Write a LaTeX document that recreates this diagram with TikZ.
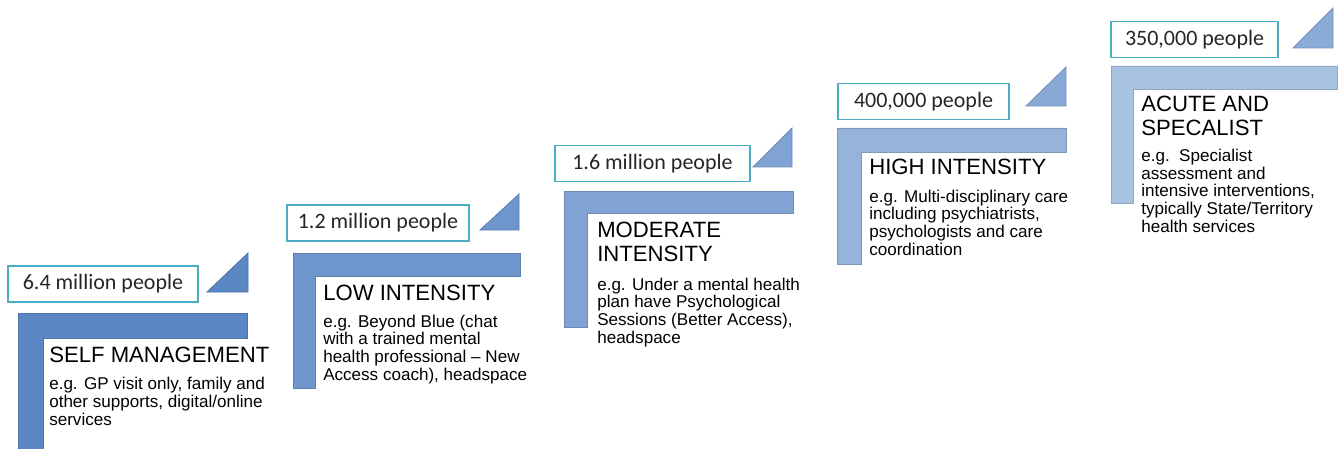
\documentclass[tikz,border=0pt]{standalone}
\usepackage{fontspec}
\setmainfont{Liberation Sans}
\newfontfamily\countfont{Carlito}
\usepackage{tikz}

\definecolor{boxteal}{HTML}{4BACC6}
\definecolor{stepA}{HTML}{5B88C4}
\definecolor{stepB}{HTML}{6E96CC}
\definecolor{stepC}{HTML}{80A3D3}
\definecolor{stepD}{HTML}{95B3DB}
\definecolor{stepE}{HTML}{A8C2E2}
\definecolor{triD}{HTML}{88A8D5}
\definecolor{triE}{HTML}{8AAAD8}

\begin{document}
\begin{tikzpicture}[x=0.75pt,y=-0.75pt,
    countbox/.style={draw=boxteal,line width=1.1pt,fill=white,minimum height=27pt,
      inner sep=0pt,font=\countfont\fontsize{16.5pt}{18pt}\selectfont,text=black!85},
    steptitle/.style={anchor=base west,inner sep=0pt,align=left,
      font=\fontsize{16.6pt}{18pt}\selectfont},
    stepbody/.style={anchor=base west,inner sep=0pt,align=left,
      font=\fontsize{12.8pt}{13.2pt}\selectfont},
    stair/.style={fill=#1,draw=#1!85!black,line width=0.6pt}]
    \clip (0,0) rectangle (1341,449);

    % stairs
    \draw[stair=stepA] (18,313) -- (247,313) -- (247,338) -- (43,338) -- (43,455) -- (18,455) -- cycle;
    \draw[stair=stepB] (293,253) -- (520,253) -- (520,276) -- (315,276) -- (315,388) -- (293,388) -- cycle;
    \draw[stair=stepC] (564,191) -- (793,191) -- (793,213) -- (587,213) -- (587,327) -- (564,327) -- cycle;
    \draw[stair=stepD] (837,128) -- (1066,128) -- (1066,152) -- (861,152) -- (861,264) -- (837,264) -- cycle;
    \draw[stair=stepE] (1111,66) -- (1337,66) -- (1337,89) -- (1133,89) -- (1133,203) -- (1111,203) -- cycle;

    % triangles
    \draw[stair=stepA] (207,292) -- (248,253) -- (248,292) -- cycle;
    \draw[stair=stepB] (480,230) -- (519,194) -- (519,230) -- cycle;
    \draw[stair=stepC] (753,167) -- (792,128) -- (792,167) -- cycle;
    \draw[stair=triD] (1026,106) -- (1066,67) -- (1066,106) -- cycle;
    \draw[stair=triE] (1293,48) -- (1333,8) -- (1333,48) -- cycle;

    % counts
    \node[countbox,minimum width=142.5pt] (countA) at (103,284) {6.4 million people};
    \node[countbox,minimum width=136.5pt] (countB) at (378,223) {1.2 million people};
    \node[countbox,minimum width=146.25pt] (countC) at (652.5,163.5) {1.6 million people};
    \node[countbox,minimum width=128.25pt] (countD) at (923.5,101.5) {400,000 people};
    \node[countbox,minimum width=125.25pt] (countE) at (1194.5,39.5) {350,000 people};

    % titles and examples (placed at the baseline of their last line)
    \node[steptitle] (titleA) at (49,362) {SELF MANAGEMENT};
    \node[stepbody] (bodyA) at (49,425) {e.g. GP visit only, family and\\other supports, digital/online\\services};
    \node[steptitle] (titleB) at (323,300) {LOW INTENSITY};
    \node[stepbody] (bodyB) at (323,380) {e.g. Beyond Blue (chat\\with a trained mental\\health professional -- New\\Access coach), headspace};
    \node[steptitle] (titleC) at (597,261) {MODERATE\\INTENSITY};
    \node[stepbody] (bodyC) at (597,343) {e.g. Under a mental health\\plan have Psychological\\Sessions (Better Access),\\headspace};
    \node[steptitle] (titleD) at (869,175) {HIGH INTENSITY};
    \node[stepbody] (bodyD) at (869,255) {e.g. Multi-disciplinary care\\including psychiatrists,\\psychologists and care\\coordination};
    \node[steptitle] (titleE) at (1141,136) {ACUTE AND\\SPECALIST};
    \node[stepbody] (bodyE) at (1141,232) {e.g.\ \ Specialist\\assessment and\\intensive interventions,\\typically State/Territory\\health services};
  \end{tikzpicture}
\end{document}
